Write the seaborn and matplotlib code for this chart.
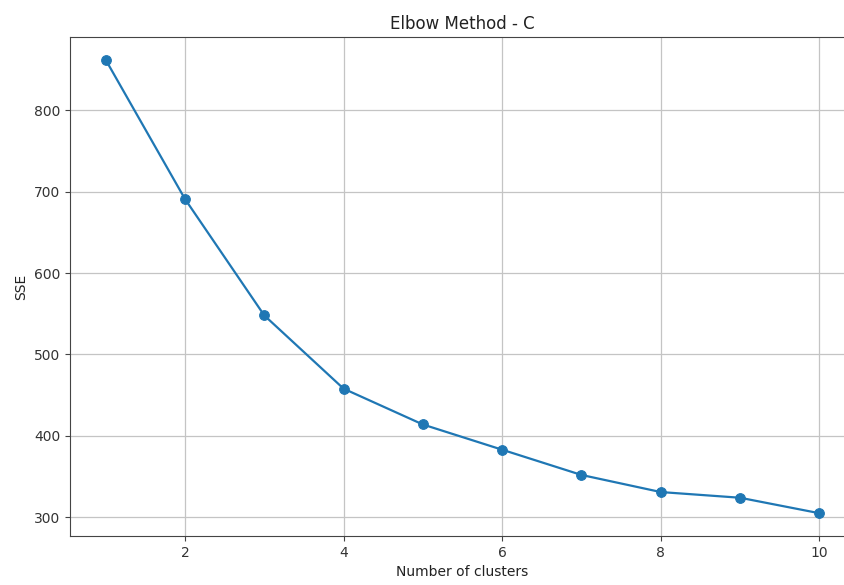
import matplotlib
matplotlib.use("Agg")
import matplotlib.pyplot as plt
import seaborn as sns
import pandas as pd

clusters = [1, 2, 3, 4, 5, 6, 7, 8, 9, 10]
sse = [862, 691, 548, 458, 414, 383, 352, 331, 324, 305]

df = pd.DataFrame({"k": clusters, "sse": sse})

fig = plt.figure(figsize=(8.45, 5.85), dpi=100)
ax = fig.add_axes([70/845, 49/585, 785/845, 499/585])
sns.lineplot(data=df, x="k", y="sse", marker="o", color="#1f77b4",
             markeredgecolor="#1f77b4", markersize=7, linewidth=1.6, ax=ax)
ax.set_xlim(0.55, 10.45)
ax.set_ylim(277, 890)
ax.set_xticks([2, 4, 6, 8, 10])
ax.set_yticks([300, 400, 500, 600, 700, 800])
ax.grid(True, color="#c4c4c4", linewidth=0.9)
ax.set_axisbelow(True)
ax.spines["right"].set_visible(False)
for s in ("left", "bottom", "top"):
    ax.spines[s].set_color("#444444")
ax.set_title("Elbow Method - C", fontsize=12, color="#222222")
ax.set_xlabel("Number of clusters", fontsize=10, color="#222222")
ax.set_ylabel("SSE", fontsize=10, color="#222222")
ax.tick_params(labelsize=10, labelcolor="#333333", color="#444444")
fig.savefig("out.png", dpi=100)
